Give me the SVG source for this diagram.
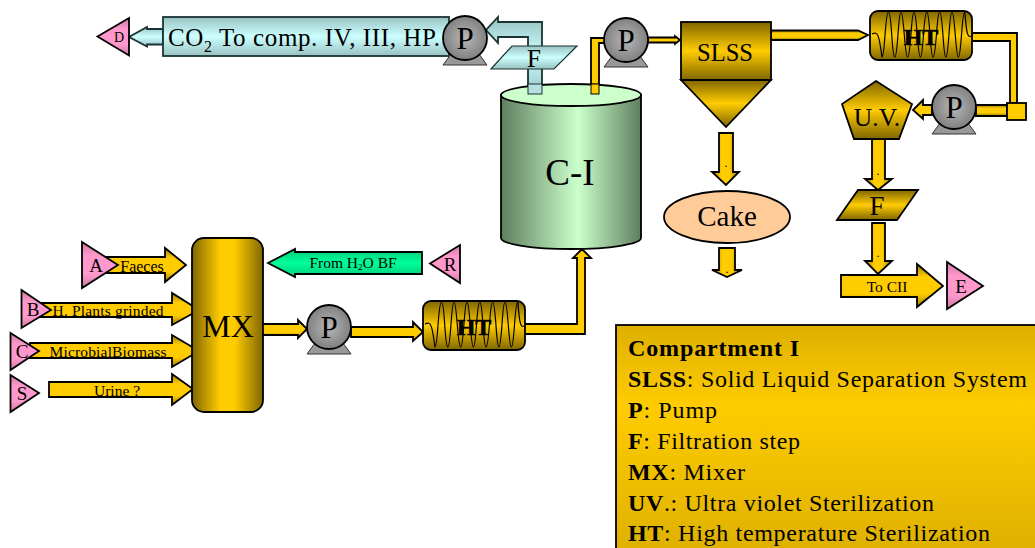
<svg xmlns="http://www.w3.org/2000/svg" width="1035" height="548" viewBox="0 0 1035 548">
<style>
text{font-family:"Liberation Serif","Times New Roman",serif;fill:#000;text-anchor:middle}
.l{text-anchor:start;font-size:24px}
.b{font-weight:bold}
.hv{font-weight:bold;stroke:#000;stroke-width:.6}
.pipe{fill:#FFCC00;stroke:#000;stroke-width:1.8}
.arr{fill:url(#aV);stroke:#000;stroke-width:1.8}
.arrH{fill:url(#aH);stroke:#000;stroke-width:1.8}
.pink{fill:url(#pk);stroke:#000;stroke-width:1.8}
.teal{fill:url(#tl);stroke:#1a3333;stroke-width:1.8}
.ln{stroke:#000;stroke-width:1.8}
.coil{fill:none;stroke:#000;stroke-width:1.2}
</style>
<defs>
<linearGradient id="gV" x1="0" y1="0" x2="0" y2="1"><stop offset="0" stop-color="#806600"/><stop offset=".5" stop-color="#FFCC00"/><stop offset="1" stop-color="#806600"/></linearGradient>
<linearGradient id="gH" x1="0" y1="0" x2="1" y2="0"><stop offset="0" stop-color="#806600"/><stop offset=".4" stop-color="#FFCC00"/><stop offset=".6" stop-color="#FFCC00"/><stop offset="1" stop-color="#806600"/></linearGradient>
<linearGradient id="aV" x1="0" y1="0" x2="0" y2="1"><stop offset="0" stop-color="#997A00"/><stop offset=".3" stop-color="#FFCC00"/><stop offset=".7" stop-color="#FFCC00"/><stop offset="1" stop-color="#997A00"/></linearGradient>
<linearGradient id="aH" x1="0" y1="0" x2="1" y2="0"><stop offset="0" stop-color="#997A00"/><stop offset=".35" stop-color="#FFCC00"/><stop offset=".65" stop-color="#FFCC00"/><stop offset="1" stop-color="#997A00"/></linearGradient>
<linearGradient id="lg" x1="0" y1="0" x2="0" y2="1"><stop offset="0" stop-color="#DDB000"/><stop offset=".35" stop-color="#FFCC00"/><stop offset="1" stop-color="#DDB000"/></linearGradient>
<linearGradient id="pk" x1="0" y1="0" x2="0" y2="1"><stop offset="0" stop-color="#CC7AA3"/><stop offset=".3" stop-color="#FF99CC"/><stop offset=".7" stop-color="#FF99CC"/><stop offset="1" stop-color="#CC7AA3"/></linearGradient>
<linearGradient id="tl" x1="0" y1="0" x2="0" y2="1"><stop offset="0" stop-color="#99C2C2"/><stop offset=".5" stop-color="#CCFFFF"/><stop offset="1" stop-color="#99C2C2"/></linearGradient>
<linearGradient id="gn" x1="0" y1="0" x2="0" y2="1"><stop offset="0" stop-color="#00CC7A"/><stop offset=".5" stop-color="#00FF99"/><stop offset="1" stop-color="#00CC7A"/></linearGradient>
<linearGradient id="cy" x1="0" y1="0" x2="1" y2="0"><stop offset="0" stop-color="#5F7F5F"/><stop offset=".55" stop-color="#CCFFCC"/><stop offset="1" stop-color="#5F7F5F"/></linearGradient>
<radialGradient id="pm"><stop offset="0" stop-color="#B8B8B8"/><stop offset="1" stop-color="#808080"/></radialGradient>
<g id="pump"><path d="M-22,27 L-11,12 H11 L22,27 Z" fill="#999" stroke="#333"/><circle r="22" fill="url(#pm)" stroke="#000" stroke-width="1.8"/><text y="11" font-size="31">P</text></g>
<g id="ht"><rect width="102" height="49" rx="8" fill="url(#gV)" stroke="#000" stroke-width="1.8"/><path class="coil" d="M2,23 C8,20 9,24 12,46 C15,46 15,1 18.5,1 C22,1 21.5,46 24.8,46 C28,46 28,1 31,1 C34,1 34.500,46 37.600,46 C41,46 41,1 44,1 C47,1 47.500,46 50.400,46 C53.500,46 53.500,1 56.800,1 C60,1 60,46 63,46 C66.500,46 66.500,1 69.600,1 C73,1 73,46 75.800,46 C79,46 79,1 82,1 C85,1 85.500,46 88.400,46 C91.500,46 91.500,1 94.800,1 C96.500,20 97,27 101,25"/><text x="51" y="34" font-size="24" class="hv">HT</text></g>
</defs>

<g id="connectors">
<path class="teal" d="M163,29 H147 V27 L129,37 L147,46.500 V44.500 H163 Z"/>
<path class="teal" d="M528,94 V37 H498 V43 L486,30 L498,17 V22 H542 V94 Z"/>
<path class="pipe" d="M591,94 V38 H606 V43 H599 V94 Z"/>
<path class="arr" d="M648,37.500 H675 V36 L680,40 L675,44 V42.500 H648 Z"/>
<path class="arr" d="M771,30.500 H858 L868,35 L858,40 H771 Z"/>
<path class="pipe" d="M972,33 H1017 V103 H1010 V41 H972 Z"/>
<path class="arr" d="M1007,105 H976 V116 H1007 Z"/>
<path class="arr" d="M932,105 H923 V100 L913,110 L923,119 V115 H932 Z"/>
<path class="arrH" d="M719,133 H733 V172 H739 L726,185 L712,172 H719 Z"/>
<path class="arrH" d="M719,248 H735 V270 H742 L727,277 L712,270 H719 Z"/>
<path class="arrH" d="M872,139 H885 V179 H892 L878,190 L865,179 H872 Z"/>
<path class="arrH" d="M872,223 H885 V261 H892 L878,274 L865,261 H872 Z"/>
<path class="arr" d="M262,324 H298 V320 L307,329 L298,338 V335 H262 Z"/>
<path class="arr" d="M351,327 H413 V322 L423,332 L413,341 V337 H351 Z"/>
<path class="pipe" d="M524,324 H577 V258 H573 L582,249 L591,258 H585 V334 H524 Z"/>
<path class="arr" d="M106,257 H165 V248 L186,265 L165,282 V273 H106 Z"/>
<path class="arr" d="M40,303 H172 V293 L199,310 L172,325 V317 H40 Z"/>
<path class="arr" d="M30,343 H172 V335 L199,351 L172,367 V358 H30 Z"/>
<path class="arr" d="M49,382 H172 V374 L193,389 L172,405 V397 H49 Z"/>
<path class="arr" d="M841,275 H917 V264 L943,286 L917,307 V297 H841 Z"/>
<path fill="url(#gn)" class="ln" d="M422,252 H295 V249 L268,263 L295,277 V274 H422 Z"/>
</g>

<g id="n-co2"><rect class="teal" x="163" y="17" width="286" height="39"/><text x="304" y="46" font-size="25" textLength="272" lengthAdjust="spacing">CO<tspan font-size="16" dy="6">2</tspan><tspan dy="-6"> To comp. IV, III, HP.</tspan></text></g>
<g id="n-d"><polygon class="pink" points="97.500,36.500 129,18 129,55.500"/><text x="119" y="42" font-size="14">D</text></g>
<use id="n-p1" href="#pump" x="465" y="38"/>
<g id="n-f1"><polygon points="491,69 512,46 577,46 554,69" fill="url(#tl)" stroke="#1a3333" stroke-width="1.2"/><text x="534" y="67" font-size="25">F</text></g>
<g id="n-c1"><path d="M501,95 V238 A70,11 0 0 0 641,238 V95 Z" fill="url(#cy)" class="ln"/><ellipse cx="571" cy="95" rx="70" ry="11" fill="#CCFFCC" class="ln"/><rect x="528" y="84" width="14" height="10" fill="#B8E0E0" stroke="#1a3333"/><rect x="591" y="84" width="8" height="10" fill="#FFCC00" stroke="#000"/><text x="570" y="185" font-size="37">C-I</text></g>
<use id="n-p2" href="#pump" x="626" y="40"/>
<g id="n-slss"><rect x="681" y="22" width="90" height="58" fill="url(#gV)" class="ln"/><polygon points="681,80 771,80 726,127" fill="url(#gV)" class="ln"/><text x="725" y="61" font-size="24.500">SLSS</text></g>
<use id="n-ht2" href="#ht" x="870" y="11"/>
<g id="n-sq"><rect x="1007" y="103" width="19" height="17" fill="#FFCC00" class="ln"/></g>
<use id="n-p3" href="#pump" x="954" y="107"/>
<g id="n-uv"><polygon points="876,81 912,104 899,139 854,139 842,104" fill="url(#gV)" class="ln"/><text x="877" y="126" font-size="25.500">U.V.</text></g>
<text x="726" y="167" font-size="12">.</text>
<text x="727" y="273" font-size="12">.</text>
<text x="878" y="175" font-size="12">.</text>
<text x="878" y="257" font-size="12">.</text>
<g id="n-cake"><ellipse cx="727" cy="217" rx="63" ry="26" fill="#FFCC99" class="ln"/><text x="727" y="226" font-size="29">Cake</text></g>
<g id="n-f2"><polygon points="837,220 858,190 918,190 897,220" fill="url(#gV)" class="ln"/><text x="877" y="215" font-size="27">F</text></g>
<text x="887" y="292" font-size="15.500">To CII</text>
<g id="n-e"><polygon class="pink" points="947,262 983,286 947,309"/><text x="961" y="293" font-size="19">E</text></g>
<g id="n-a"><polygon class="pink" points="82,242 118,265 82,288"/><text x="96" y="272" font-size="19">A</text></g>
<text x="142" y="272" font-size="16">Faeces</text>
<g id="n-b"><polygon class="pink" points="21.500,290 51,310 21.500,328"/><text x="33" y="316" font-size="19">B</text></g>
<text x="108" y="316" font-size="15.500" textLength="111" lengthAdjust="spacing">H. Plants grinded</text>
<g id="n-cc"><polygon class="pink" points="10.500,333 39,351 10.500,370"/><text x="22" y="358" font-size="19">C</text></g>
<text x="108" y="357" font-size="15.500" textLength="117" lengthAdjust="spacing">MicrobialBiomass</text>
<g id="n-s"><polygon class="pink" points="10.500,375 39,393 10.500,412"/><text x="22" y="400" font-size="19">S</text></g>
<text x="117" y="396" font-size="15.500">Urine ?</text>
<g id="n-mx"><rect x="192" y="238" width="71" height="174" rx="12" fill="url(#gH)" class="ln"/><text x="228" y="337" font-size="32">MX</text></g>
<use id="n-p4" href="#pump" x="329" y="327"/>
<use id="n-ht1" href="#ht" x="423" y="301"/>
<text x="353" y="268" font-size="15.500">From H<tspan font-size="9" dy="2">2</tspan><tspan dy="-2">O BF</tspan></text>
<g id="n-r"><polygon class="pink" points="430,263.500 460,245 460,283"/><text x="450" y="271" font-size="19">R</text></g>

<g id="legend">
<rect x="616" y="325" width="425" height="230" fill="url(#lg)" class="ln"/>
<text class="l b" x="628" y="356" textLength="171" lengthAdjust="spacing">Compartment I</text>
<text class="l" x="628" y="387" textLength="399" lengthAdjust="spacing"><tspan class="b">SLSS</tspan>: Solid Liquid Separation System</text>
<text class="l" x="628" y="418" textLength="89" lengthAdjust="spacing"><tspan class="b">P</tspan>: Pump</text>
<text class="l" x="628" y="449" textLength="172" lengthAdjust="spacing"><tspan class="b">F</tspan>: Filtration step</text>
<text class="l" x="628" y="480" textLength="117" lengthAdjust="spacing"><tspan class="b">MX</tspan>: Mixer</text>
<text class="l" x="628" y="511" textLength="306" lengthAdjust="spacing"><tspan class="b">UV</tspan>.: Ultra violet Sterilization</text>
<text class="l" x="628" y="541" textLength="362" lengthAdjust="spacing"><tspan class="b">HT</tspan>: High temperature Sterilization</text>
</g>
</svg>
